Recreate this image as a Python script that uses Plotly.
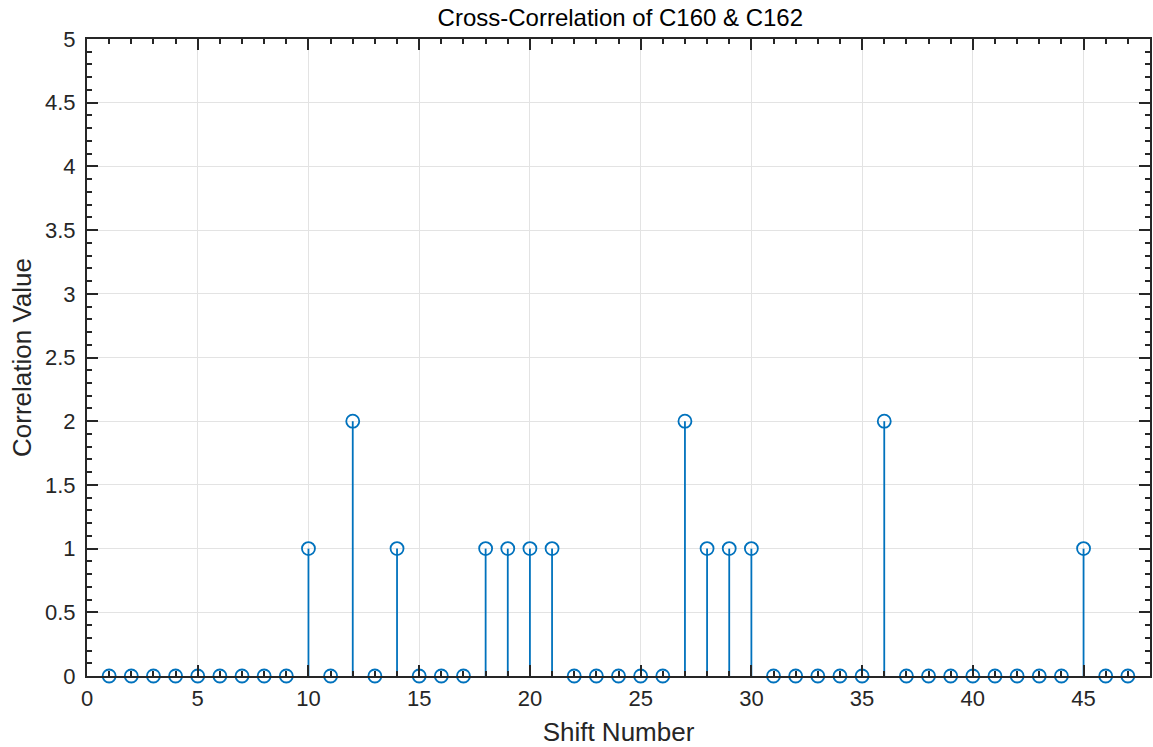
import plotly.graph_objects as go

shift = list(range(1, 48))
corr = [0, 0, 0, 0, 0, 0, 0, 0, 0, 1,
        0, 2, 0, 1, 0, 0, 0, 1, 1, 1,
        1, 0, 0, 0, 0, 0, 2, 1, 1, 1,
        0, 0, 0, 0, 0, 2, 0, 0, 0, 0,
        0, 0, 0, 0, 1, 0, 0]

title_text = "Cross-Correlation of C160 & C162"
x_label = "Shift Number"
y_label = "Correlation Value"

BLUE = "#0072BD"
AX = "#262626"
FONT = "Liberation Sans, Arial, Helvetica, sans-serif"

# stems built from data
sx, sy = [], []
for xv, yv in zip(shift, corr):
    sx += [xv, xv, None]
    sy += [0, yv, None]

fig = go.Figure()
fig.add_trace(go.Scatter(x=sx, y=sy, mode="lines",
                         line=dict(color=BLUE, width=1.8),
                         hoverinfo="skip", showlegend=False))
fig.add_trace(go.Scatter(x=shift, y=corr, mode="markers",
                         marker=dict(symbol="circle-open", size=13,
                                     color=BLUE, line=dict(color=BLUE, width=1.8)),
                         cliponaxis=False, showlegend=False))

axis_common = dict(
    showline=True, linecolor=AX, linewidth=2, mirror="allticks",
    ticks="inside", ticklen=11, tickwidth=1.5, tickcolor=AX,
    showgrid=True, gridcolor="#e3e3e3", gridwidth=1,
    zeroline=False,
    tickfont=dict(family=FONT, size=22, color=AX),
)

fig.update_layout(
    width=1153, height=747,
    margin=dict(l=87, r=1, t=39, b=71),
    paper_bgcolor="white", plot_bgcolor="white",
    title=dict(text=title_text, x=0.538, xanchor="center", y=0.976, yanchor="middle",
               font=dict(family=FONT, size=24, color="#000000")),
    xaxis=dict(range=[0, 48], tick0=0, dtick=5, ticklabelstandoff=2,
               minor=dict(ticks="inside", dtick=1, ticklen=5, tickwidth=1.5, tickcolor=AX, showgrid=False),
               title=dict(text=x_label, font=dict(family=FONT, size=26, color=AX), standoff=12),
               **axis_common),
    yaxis=dict(range=[0, 5], tick0=0, dtick=0.5, ticklabelstandoff=5,
               minor=dict(ticks="inside", dtick=0.1, ticklen=5, tickwidth=1.5, tickcolor=AX, showgrid=False),
               title=dict(text=y_label, font=dict(family=FONT, size=26, color=AX), standoff=6),
               **axis_common),
)

fig.write_html("out.html")
